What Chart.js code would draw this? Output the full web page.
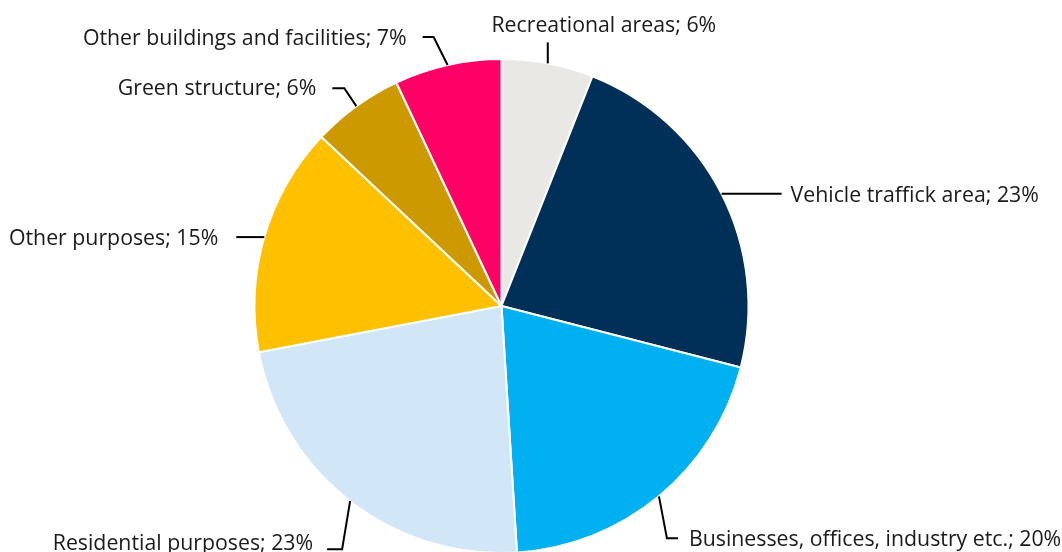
<!DOCTYPE html>
<html>
<head>
<meta charset="utf-8">
<script src="https://cdn.jsdelivr.net/npm/chart.js@4/dist/chart.umd.min.js"></script>
<style>
  html, body { margin: 0; padding: 0; background: #ffffff; overflow: hidden; }
  canvas { display: block; }
</style>
</head>
<body>
<canvas id="c" width="1062" height="554"></canvas>
<script>
const categories = [
  'Recreational areas',
  'Vehicle traffick area',
  'Businesses, offices, industry etc.',
  'Residential purposes',
  'Other purposes',
  'Green structure',
  'Other buildings and facilities'
];
const shares = [6, 23, 20, 23, 15, 6, 7];
const sliceColors = ['#EAE8E4', '#003057', '#00B0F0', '#D1E6F6', '#FFC000', '#CC9900', '#FF0066'];

// Leader-line / label layout, relative to each slice's outer-edge midpoint
const labelLayout = [
  { elbow: [0, -21],  run: 0,   text: [56, -37],  align: 'center' },
  { elbow: [0, 0],    run: 60,  text: [69, 2],    align: 'left' },
  { elbow: [8, 42],   run: 11,  text: [30, 44],   align: 'left' },
  { elbow: [-8, 48],  run: -15, text: [-37, 43],  align: 'right' },
  { elbow: [0, 0],    run: -28, text: [-46, 2],   align: 'right' },
  { elbow: [-12, -18], run: -12, text: [-40, -17], align: 'right' },
  { elbow: [-14, -28], run: -11, text: [-41, -26], align: 'right' }
];

const leaderLabels = {
  id: 'leaderLabels',
  afterDraw(chart) {
    const ctx = chart.ctx;
    const meta = chart.getDatasetMeta(0);
    const values = chart.data.datasets[0].data;
    ctx.save();
    ctx.font = '21.3px "Open Sans"';
    ctx.fillStyle = '#1a1a1a';
    ctx.strokeStyle = '#000000';
    ctx.lineWidth = 2;
    ctx.textBaseline = 'middle';
    meta.data.forEach((arc, i) => {
      const p = arc.getProps(['x', 'y', 'startAngle', 'endAngle', 'outerRadius'], true);
      const mid = (p.startAngle + p.endAngle) / 2;
      const ex = p.x + Math.cos(mid) * p.outerRadius;
      const ey = p.y + Math.sin(mid) * p.outerRadius;
      const L = labelLayout[i];
      const bx = ex + L.elbow[0], by = ey + L.elbow[1];
      ctx.beginPath();
      ctx.moveTo(ex, ey);
      ctx.lineTo(bx, by);
      if (L.run) ctx.lineTo(bx + L.run, by);
      ctx.stroke();
      ctx.textAlign = L.align;
      ctx.fillText(chart.data.labels[i] + '; ' + values[i] + '%', ex + L.text[0], ey + L.text[1]);
    });
    ctx.restore();
  }
};

new Chart(document.getElementById('c'), {
  type: 'pie',
  data: {
    labels: categories,
    datasets: [{
      data: shares,
      backgroundColor: sliceColors,
      borderColor: '#ffffff',
      borderWidth: 2
    }]
  },
  options: {
    responsive: false,
    animation: false,
    layout: { padding: { top: 58, bottom: 0, left: 0, right: 59 } },
    plugins: {
      legend: { display: false },
      tooltip: { enabled: false }
    }
  },
  plugins: [leaderLabels]
});
</script>
</body>
</html>
